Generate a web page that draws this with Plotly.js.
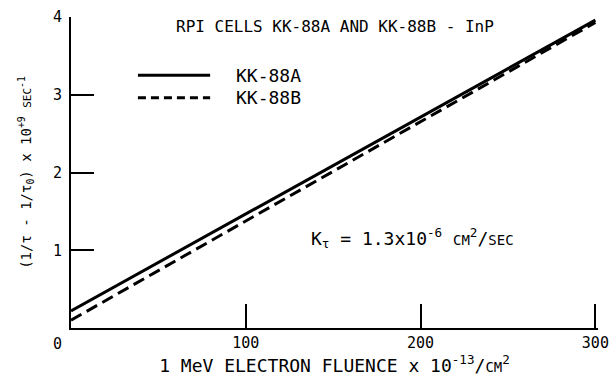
<!DOCTYPE html>
<html>
<head>
<meta charset="utf-8">
<script src="https://cdn.plot.ly/plotly-3.0.1.min.js"></script>
<style>html,body{margin:0;padding:0;background:#fff;}#chart{width:610px;height:388px;}</style>
</head>
<body>
<div id="chart"></div>
<script>
// Data
const seriesNames = ["KK-88A", "KK-88B"];
const fluence = [0, 300];                 // x 10^13 e/cm^2
const kk88A = [0.22, 3.96];               // (1/tau - 1/tau0) x 10^9 /s
const kk88B = [0.10, 3.93];
const xTickVals = [100, 200, 300];
const xTickText = ["100", "200", "300"];
const yTickVals = [1, 2, 3, 4];
const yTickText = ["1", "2", "3", "4"];

const FONT = '"DejaVu Sans Mono", "Liberation Mono", monospace';
const sc = (s, px) => '<span style="font-size:' + px + 'px">' + s + '</span>';

const traces = [
  {x: fluence, y: kk88A, name: seriesNames[0], mode: 'lines',
   line: {color: '#000', width: 3, dash: 'solid'}, hoverinfo: 'skip'},
  {x: fluence, y: kk88B, name: seriesNames[1], mode: 'lines',
   line: {color: '#000', width: 3, dash: '12px,6px'}, hoverinfo: 'skip'}
];

const layout = {
  width: 610, height: 388,
  margin: {l: 71, r: 12, t: 17, b: 60},
  paper_bgcolor: '#fff', plot_bgcolor: '#fff',
  showlegend: false,
  font: {family: FONT, size: 15, color: '#000'},
  xaxis: {
    range: [0, 301.5], showgrid: false, zeroline: false,
    showline: true, linecolor: '#000', linewidth: 2,
    ticks: 'inside', ticklen: 24, tickwidth: 2, tickcolor: '#000',
    tickvals: xTickVals, ticktext: xTickText,
    tickfont: {family: FONT, size: 15}, ticklabeloverflow: 'allow',
    title: {text: '1 MeV ELECTRON FLUENCE x 10<sup>-13</sup>/' + sc('CM', 14) + '<sup>2</sup>',
            font: {family: FONT, size: 18}, standoff: 5}
  },
  yaxis: {
    range: [0, 4], showgrid: false, zeroline: false,
    showline: true, linecolor: '#000', linewidth: 2,
    ticks: 'inside', ticklen: 23, tickwidth: 2, tickcolor: '#000',
    tickvals: yTickVals, ticktext: yTickText,
    tickfont: {family: FONT, size: 15}, ticklabelstandoff: 4, ticklabeloverflow: 'allow',
    title: {text: '(1/τ - 1/τ<sub>0</sub>) x 10<sup>+9</sup> ' + sc('SEC', 11) + '<sup>-1</sup>',
            font: {family: FONT, size: 14}, standoff: 18}
  },
  shapes: [
    {type: 'line', xref: 'paper', yref: 'paper', x0: 0.127, x1: 0.264, y0: 0.813, y1: 0.813,
     line: {color: '#000', width: 3}},
    {type: 'line', xref: 'paper', yref: 'paper', x0: 0.127, x1: 0.264, y0: 0.740, y1: 0.740,
     line: {color: '#000', width: 3, dash: '8px,5px'}}
  ],
  annotations: [
    {text: 'RPI CELLS KK-88A AND KK-88B - InP', xref: 'paper', yref: 'paper',
     x: 0.501, y: 0.968, showarrow: false, xanchor: 'center', yanchor: 'middle',
     font: {family: FONT, size: 16}},
    {text: seriesNames[0], xref: 'paper', yref: 'paper', x: 0.310, y: 0.813,
     showarrow: false, xanchor: 'left', yanchor: 'middle', font: {family: FONT, size: 18}},
    {text: seriesNames[1], xref: 'paper', yref: 'paper', x: 0.310, y: 0.740,
     showarrow: false, xanchor: 'left', yanchor: 'middle', font: {family: FONT, size: 18}},
    {text: 'K<sub>τ</sub> = 1.3x10<sup>-6</sup> ' + sc('CM', 14) + '<sup>2</sup>/' + sc('SEC', 14),
     xref: 'paper', yref: 'paper', x: 0.452, y: 0.29, showarrow: false,
     xanchor: 'left', yanchor: 'middle', font: {family: FONT, size: 18}},
    {text: '0', xref: 'paper', yref: 'paper', x: -0.025, y: -0.052, showarrow: false,
     xanchor: 'center', yanchor: 'middle', font: {family: FONT, size: 15}}
  ]
};

Plotly.newPlot('chart', traces, layout, {staticPlot: true, displayModeBar: false});
</script>
</body>
</html>
